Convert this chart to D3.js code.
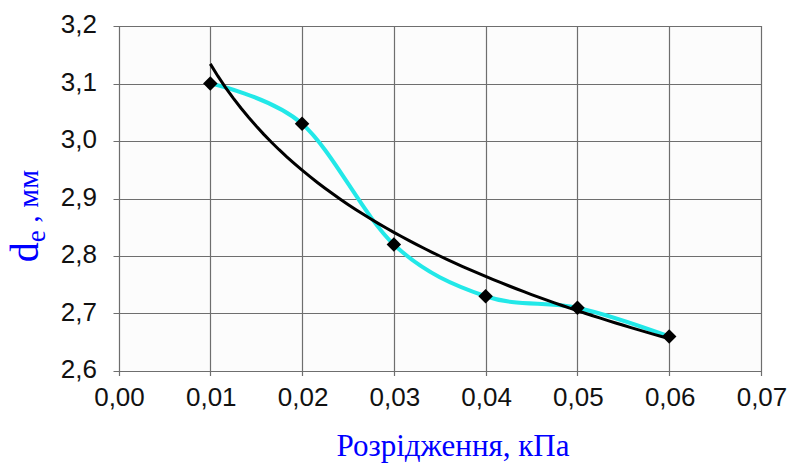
<!DOCTYPE html>
<html>
<head>
<meta charset="utf-8">
<script src="https://cdn.jsdelivr.net/npm/d3@7"></script>
<style>
  html, body { margin: 0; padding: 0; background: #fff; }
  svg { display: block; }
  .tick-label { font-family: 'Liberation Sans', Arial, sans-serif; font-size: 26px; fill: #111; }
  .axis-title { font-family: 'Liberation Serif', 'Times New Roman', serif; fill: #0000ff; }
</style>
</head>
<body>
<div id="chart"></div>
<script>
// measured points
const pressure = [0.01, 0.02, 0.03, 0.04, 0.05, 0.06];
const diameter = [3.10, 3.03, 2.82, 2.73, 2.71, 2.66];

const xTicks = [0, 0.01, 0.02, 0.03, 0.04, 0.05, 0.06, 0.07];
const yTicks = [2.6, 2.7, 2.8, 2.9, 3.0, 3.1, 3.2];

const xTitle = 'Розрідження, кПа';

const width = 788;
const height = 463;
const plot = { left: 118.5, right: 761, top: 26, bottom: 371 };

const svg = d3.select('#chart')
  .append('svg')
    .attr('width', width)
    .attr('height', height);

const x = d3.scaleLinear()
  .domain([0, 0.07])
  .range([plot.left, plot.right]);

const y = d3.scaleLinear()
  .domain([2.6, 3.2])
  .range([plot.bottom, plot.top]);

const fmtX = (d) => d3.format('.2f')(d).replace('.', ',');
const fmtY = (d) => d3.format('.1f')(d).replace('.', ',');

// plot background
svg.append('rect')
    .attr('x', plot.left)
    .attr('y', plot.top)
    .attr('width', plot.right - plot.left)
    .attr('height', plot.bottom - plot.top)
    .attr('fill', '#fcfcfc');

// grid
const grid = svg.append('g').attr('class', 'grid');

grid.selectAll('.gx')
  .data(xTicks)
  .enter().append('line')
    .attr('x1', (d) => Math.round(x(d)) + 0.5)
    .attr('x2', (d) => Math.round(x(d)) + 0.5)
    .attr('y1', plot.top)
    .attr('y2', plot.bottom + 5)
    .attr('stroke', '#6e6e6e')
    .attr('stroke-width', 1.2);

grid.selectAll('.gy')
  .data(yTicks)
  .enter().append('line')
    .attr('x1', plot.left - 5)
    .attr('x2', plot.right)
    .attr('y1', (d) => Math.round(y(d)) + 0.5)
    .attr('y2', (d) => Math.round(y(d)) + 0.5)
    .attr('stroke', '#6e6e6e')
    .attr('stroke-width', 1.2);

// tick labels
svg.append('g')
  .selectAll('text')
  .data(xTicks)
  .enter().append('text')
    .attr('class', 'tick-label')
    .attr('x', (d) => x(d) + 1)
    .attr('y', 406)
    .attr('text-anchor', 'middle')
    .text(fmtX);

svg.append('g')
  .selectAll('text')
  .data(yTicks)
  .enter().append('text')
    .attr('class', 'tick-label')
    .attr('x', 97)
    .attr('y', (d) => y(d) + 7)
    .attr('text-anchor', 'end')
    .text(fmtY);

// logarithmic trend line, least squares on the measured points
const lnX = pressure.map(Math.log);
const mx = d3.mean(lnX);
const my = d3.mean(diameter);
const slope = d3.sum(lnX, (v, i) => (v - mx) * (diameter[i] - my)) / d3.sum(lnX, (v) => (v - mx) * (v - mx));
const intercept = my - slope * mx;
const trendX = d3.range(0, 61).map((i) => d3.min(pressure) + i * (d3.max(pressure) - d3.min(pressure)) / 60);

const data = pressure.map((p, i) => ({ p: p, d: diameter[i] }));

svg.append('path')
    .datum(data)
    .attr('fill', 'none')
    .attr('stroke', '#22e8e8')
    .attr('stroke-width', 4)
    .attr('d', d3.line()
      .x((d) => x(d.p))
      .y((d) => y(d.d))
      .curve(d3.curveCardinal.tension(0)));

svg.append('path')
    .datum(trendX)
    .attr('fill', 'none')
    .attr('stroke', '#000')
    .attr('stroke-width', 3)
    .attr('d', d3.line()
      .x((d) => x(d))
      .y((d) => y(intercept + slope * Math.log(d))));

svg.append('g')
  .selectAll('path')
  .data(data)
  .enter().append('path')
    .attr('transform', (d) => 'translate(' + x(d.p) + ',' + y(d.d) + ') rotate(45)')
    .attr('d', d3.symbol().type(d3.symbolSquare).size(105))
    .attr('fill', '#000');

// axis titles
svg.append('text')
    .attr('class', 'axis-title')
    .attr('x', 453)
    .attr('y', 456)
    .attr('text-anchor', 'middle')
    .attr('font-size', 31)
    .text(xTitle);

const yTitle = svg.append('text')
    .attr('class', 'axis-title')
    .attr('transform', 'translate(38,216) rotate(-90)')
    .attr('text-anchor', 'middle');
yTitle.append('tspan').attr('font-size', 40).text('d');
yTitle.append('tspan').attr('font-size', 27).attr('dy', 7).text('e');
yTitle.append('tspan').attr('font-size', 30).attr('dy', -7).text(' , мм');
</script>
</body>
</html>
